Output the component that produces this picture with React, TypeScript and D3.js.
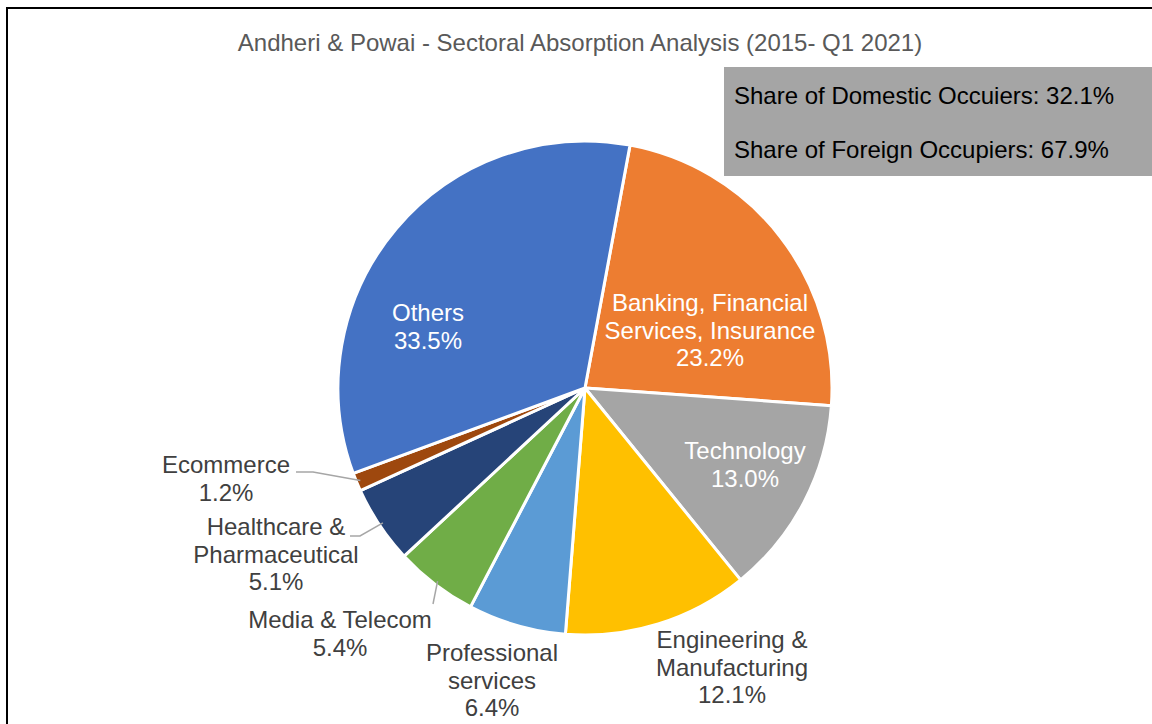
import React from 'react'
import * as d3 from 'd3'

// sector shares, clockwise from the top
const sectors = ['Banking, Financial Services, Insurance', 'Technology', 'Engineering & Manufacturing', 'Professional services', 'Media & Telecom', 'Healthcare & Pharmaceutical', 'Ecommerce', 'Others']
const shares = [23.2, 13.0, 12.1, 6.4, 5.4, 5.1, 1.2, 33.5]
const colors = ['#ED7D31', '#A5A5A5', '#FFC000', '#5B9BD5', '#70AD47', '#264478', '#9E480E', '#4472C4']
const labelLines = [
    ['Banking, Financial', 'Services, Insurance'],
    ['Technology'],
    ['Engineering &', 'Manufacturing'],
    ['Professional', 'services'],
    ['Media & Telecom'],
    ['Healthcare &', 'Pharmaceutical'],
    ['Ecommerce'],
    ['Others'],
]
const boxLines = ['Share of Domestic Occuiers: 32.1%', 'Share of Foreign Occupiers: 67.9%']
const title = 'Andheri & Powai - Sectoral Absorption Analysis (2015- Q1 2021)'

// label placement (x center, first baseline), inside or outside, optional leader line
const labelLayout = [
    { x: 710, y: 311, inside: true },
    { x: 745, y: 459, inside: true },
    { x: 732, y: 648, inside: false },
    { x: 492, y: 661, inside: false },
    { x: 340, y: 628, inside: false, leader: [[433, 604], [433, 604]] },
    { x: 276, y: 535, inside: false, leader: [[350, 536], [360, 536]] },
    { x: 226, y: 473, inside: false, leader: [[296, 472], [313, 472]] },
    { x: 428, y: 321, inside: true },
]

const W = 1152
const H = 724
const cx = 585
const cy = 388
const R = 247
const lineH = 27.7
const fs = 24
const font = '"Liberation Sans", Arial, sans-serif'

export default function App() {
    const data = sectors.map((name, i) => ({ name, value: shares[i], i }))
    const start = 10.5 * Math.PI / 180
    const pie = d3.pie<any>().sort(null).value(d => d.value).startAngle(start).endAngle(start + 2 * Math.PI)
    const arcs = pie(data)
    const arc = d3.arc<any>().innerRadius(0).outerRadius(R)
    const line = d3.line()

    return (
        <svg width={W} height={H} style={{ position: 'absolute', left: 0, top: 0 }} fontFamily={font}>
            <rect x={0} y={0} width={W} height={H} fill="#fff" />
            <rect x={7} y={8} width={W + 20} height={H + 20} fill="none" stroke="#000" strokeWidth={2} />
            <text x={580} y={51} textAnchor="middle" fontSize={fs} fill="#595959">{title}</text>

            <g transform={`translate(${cx},${cy})`}>
                {arcs.map(a => (
                    <path key={a.data.name} d={arc(a) as string} fill={colors[a.data.i]} stroke="#fff" strokeWidth={3} strokeLinejoin="round" />
                ))}
            </g>

            {arcs.map(a => {
                const lay = labelLayout[a.data.i]
                if (!lay.leader) return null
                const mid = (a.startAngle + a.endAngle) / 2
                const p: [number, number] = [cx + (R - 4) * Math.sin(mid), cy - (R - 4) * Math.cos(mid)]
                return <path key={'l' + a.data.name} d={line([...(lay.leader as [number, number][]), p]) as string} fill="none" stroke="#A6A6A6" strokeWidth={1.5} />
            })}

            {arcs.map(a => {
                const lay = labelLayout[a.data.i]
                const lines = [...labelLines[a.data.i], `${a.data.value.toFixed(1)}%`]
                return (
                    <text key={'t' + a.data.name} textAnchor="middle" fontSize={fs} fill={lay.inside ? '#fff' : '#404040'}>
                        {lines.map((s, k) => (
                            <tspan key={k} x={lay.x} y={lay.y + k * lineH}>{s}</tspan>
                        ))}
                    </text>
                )
            })}

            <rect x={724} y={67} width={W - 724} height={109} fill="#A5A5A5" />
            {boxLines.map((s, k) => (
                <text key={s} x={734} y={104 + k * 54} fontSize={fs} fill="#000">{s}</text>
            ))}
        </svg>
    )
}
